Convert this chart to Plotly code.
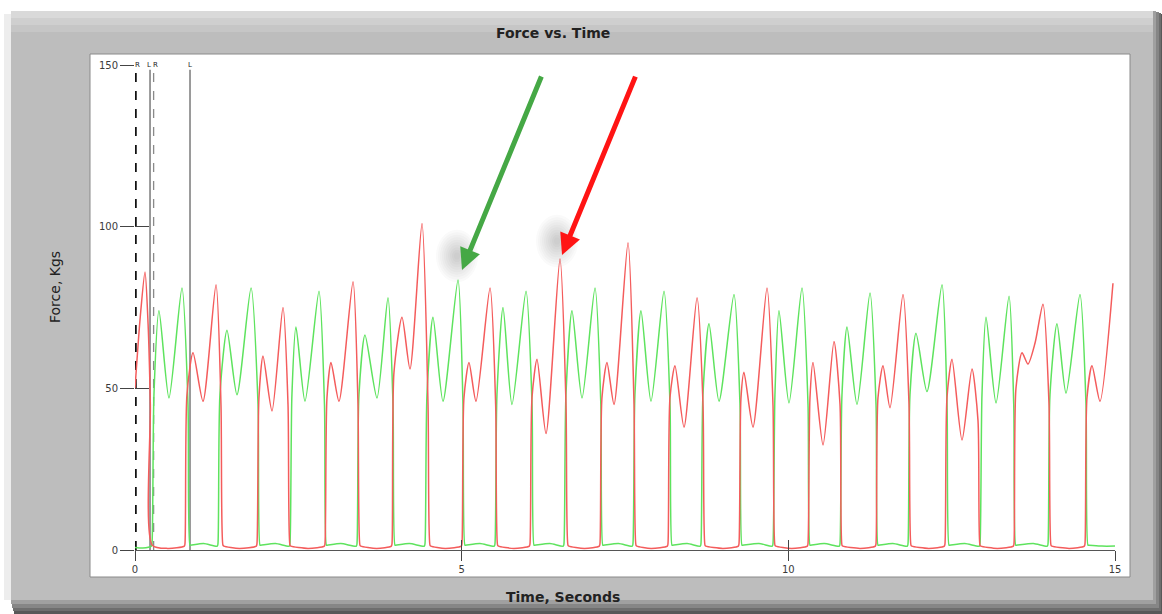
import plotly.graph_objects as go

# ---- measured force traces (time in s, force in kg) ----
red_t = [0.000, 0.080, 0.153, 0.200, 0.235, 0.265, 0.50, 0.755,
         0.765, 0.795, 0.888, 1.041, 1.240, 1.316, 1.346, 1.360, 1.60, 1.857,
         1.867, 1.897, 1.959, 2.097, 2.265, 2.342, 2.372, 2.385, 2.65, 2.898,
         2.908, 2.938, 3.000, 3.122, 3.337, 3.413, 3.443, 3.456, 3.70, 3.924,
         3.934, 3.964, 4.087, 4.209, 4.393, 4.485, 4.515, 4.528, 4.75, 4.995,
         5.005, 5.035, 5.112, 5.219, 5.434, 5.520, 5.550, 5.563, 5.80, 6.036,
         6.046, 6.076, 6.153, 6.291, 6.505, 6.597, 6.627, 6.640, 6.88, 7.107,
         7.117, 7.147, 7.224, 7.332, 7.546, 7.638, 7.668, 7.681, 7.90, 8.148,
         8.158, 8.188, 8.265, 8.403, 8.602, 8.694, 8.724, 8.737, 9.00, 9.235,
         9.245, 9.275, 9.321, 9.459, 9.673, 9.765, 9.795, 9.808, 10.05, 10.291,
         10.301, 10.331, 10.378, 10.531, 10.699, 10.791, 10.821, 10.834, 11.10, 11.332,
         11.342, 11.372, 11.449, 11.556, 11.755, 11.847, 11.877, 11.890, 12.15, 12.388,
         12.398, 12.428, 12.505, 12.658, 12.811, 12.903, 12.933, 12.946, 13.20, 13.444,
         13.454, 13.484, 13.577, 13.668, 13.776, 13.898, 13.990, 14.020, 14.033, 14.30, 14.531,
         14.541, 14.571, 14.648, 14.770, 14.969]
red_f = [50, 72, 86, 70, 45, 1.5, 0.5, 1.2,
         2, 48, 61, 46, 82, 45, 1.5, 1.2, 0.5, 1.2,
         2, 47, 60, 43, 75, 45, 1.5, 1.2, 0.5, 1.2,
         2, 47, 58, 46, 83, 45, 1.5, 1.2, 0.5, 1.2,
         2, 55, 72, 56, 101, 45, 1.5, 1.2, 0.5, 1.2,
         2, 47, 58, 46, 81, 45, 1.5, 1.2, 0.5, 1.2,
         2, 47, 59, 36, 90, 45, 1.5, 1.2, 0.5, 1.2,
         2, 47, 58, 45, 95, 45, 1.5, 1.2, 0.5, 1.2,
         2, 47, 57, 38, 78, 45, 1.5, 1.2, 0.5, 1.2,
         2, 47, 55, 38, 81, 45, 1.5, 1.2, 0.5, 1.2,
         2, 47, 58, 32.5, 64.5, 45, 1.5, 1.2, 0.5, 1.2,
         2, 47, 57, 44, 79, 45, 1.5, 1.2, 0.5, 1.2,
         2, 47, 59, 34, 56, 40, 1.5, 1.2, 0.5, 1.2,
         2, 50, 61, 57.5, 64, 76, 45, 1.5, 1.2, 0.5, 1.2,
         2, 47, 57, 46, 82.5]

green_t = [0.000, 0.120, 0.250,
           0.260, 0.290, 0.367, 0.520, 0.719, 0.811, 0.841, 0.854, 1.05, 1.260,
           1.270, 1.300, 1.408, 1.561, 1.776, 1.883, 1.913, 1.926, 2.15, 2.362,
           2.372, 2.402, 2.464, 2.602, 2.816, 2.900, 2.930, 2.943, 3.15, 3.388,
           3.398, 3.428, 3.520, 3.704, 3.872, 3.949, 3.979, 3.992, 4.20, 4.429,
           4.439, 4.469, 4.561, 4.714, 4.944, 5.020, 5.050, 5.063, 5.28, 5.500,
           5.510, 5.540, 5.633, 5.770, 5.985, 6.077, 6.107, 6.120, 6.35, 6.556,
           6.566, 6.596, 6.689, 6.842, 7.041, 7.130, 7.160, 7.173, 7.40, 7.612,
           7.622, 7.652, 7.745, 7.898, 8.097, 8.189, 8.219, 8.232, 8.45, 8.653,
           8.663, 8.693, 8.786, 8.939, 9.168, 9.260, 9.290, 9.303, 9.55, 9.755,
           9.765, 9.795, 9.857, 10.010, 10.209, 10.301, 10.331, 10.344, 10.55, 10.781,
           10.791, 10.821, 10.898, 11.051, 11.250, 11.342, 11.372, 11.385, 11.60, 11.822,
           11.832, 11.862, 11.954, 12.122, 12.352, 12.429, 12.459, 12.472, 12.70, 12.924,
           12.934, 12.964, 13.026, 13.179, 13.378, 13.450, 13.480, 13.493, 13.75, 13.965,
           13.975, 14.005, 14.112, 14.250, 14.464, 14.556, 14.586, 14.600, 14.80, 15.000]
green_f = [0.8, 0.6, 1.2,
           2, 48, 74, 47, 81, 45, 1.5, 1.5, 2, 1.2,
           2, 48, 68, 48, 81, 45, 1.5, 1.5, 2, 1.2,
           2, 48, 69, 46, 80, 45, 1.5, 1.5, 2, 1.2,
           2, 48, 66.5, 47, 78, 45, 1.5, 1.5, 2, 1.2,
           2, 48, 72, 46, 83.5, 45, 1.5, 1.5, 2, 1.2,
           2, 48, 75, 45, 80, 45, 1.5, 1.5, 2, 1.2,
           2, 48, 74, 47, 81, 45, 1.5, 1.5, 2, 1.2,
           2, 48, 74, 46, 80, 45, 1.5, 1.5, 2, 1.2,
           2, 48, 70, 46, 79, 45, 1.5, 1.5, 2, 1.2,
           2, 48, 74, 45.5, 81, 45, 1.5, 1.5, 2, 1.2,
           2, 48, 69, 45, 79.5, 45, 1.5, 1.5, 2, 1.2,
           2, 48, 67, 49, 82, 45, 1.5, 1.5, 2, 1.2,
           2, 48, 72, 45.5, 78.5, 45, 1.5, 1.5, 2, 1.2,
           2, 48, 70, 48.5, 79, 45, 1.5, 1.5, 1.2, 1.2]

# event markers (foot strike / lift-off cursors)
event_t = [0.01, 0.23, 0.285, 0.842]
event_label = ["R", "L", "R", "L"]
event_label_dx = [2, -1, 2, 0]
event_color = ["#111111", "#7a7a7a", "#8a8a8a", "#7a7a7a"]
event_dash = ["dash", "solid", "dash", "solid"]
event_width = [2.2, 1.5, 1.3, 1.5]

x_ticks = [0, 5, 10, 15]
y_ticks = [0, 50, 100, 150]

# callout arrows: tip location in data units, tail offset in px
green_tip = (5.005, 86.6)
red_tip = (6.536, 91.2)
green_tail = (80, -195)
red_tail = (74, -180)

# plot-area geometry helpers (paper coordinates derived from margins)
W, H = 1162, 614
ML, MR, MT, MB = 135, 47, 65, 64
PW, PH = W - ML - MR, H - MT - MB


def px(x):
    return (x - ML) / PW


def py(y):
    return (H - MB - y) / PH


fig = go.Figure()

for t, c, d, w in zip(event_t, event_color, event_dash, event_width):
    fig.add_trace(go.Scatter(x=[t, t], y=[0, 148.5], mode="lines",
                             line=dict(color=c, dash=d, width=w),
                             hoverinfo="skip", showlegend=False))

fig.add_trace(go.Scatter(x=green_t, y=green_f, mode="lines",
                         line=dict(color="#5ee35e", width=1.5, shape="spline", smoothing=0.7),
                         name="Left", showlegend=False))
fig.add_trace(go.Scatter(x=red_t, y=red_f, mode="lines",
                         line=dict(color="#f45c5c", width=1.5, shape="spline", smoothing=0.7),
                         name="Right", showlegend=False))

# companion axes carrying the inward half of the cross ticks
fig.add_trace(go.Scatter(x=[None], y=[None], xaxis="x2", yaxis="y2",
                         showlegend=False, hoverinfo="skip"))

shapes = []


def rect(x0, y0, x1, y1, fill, line=None):
    d = dict(type="rect", xref="paper", yref="paper", layer="below",
             x0=px(x0), x1=px(x1), y0=py(y1), y1=py(y0), fillcolor=fill)
    d["line"] = line if line else dict(width=0)
    shapes.append(d)


# panel drop shadow and grey frame
rect(4, 14, 11, 600, "#ededed")
rect(14, 14, 1162, 614, "#585858")
rect(13, 13, 1161, 611, "#6e6e6e")
rect(12, 12, 1159, 608, "#868686")
rect(11, 11, 1156, 604, "#a0a0a0")
rect(11, 11, 1153, 600, "#bdbdbd")
rect(11, 11, 1153, 18, "#d9d9d9")
rect(11, 18, 1153, 25, "#cfcfcf")
rect(11, 25, 1153, 32, "#c6c6c6")
# white chart box
rect(90, 54, 1130, 577, "#ffffff", dict(color="#8a8a8a", width=1))

# soft halo behind each arrow head (stacked faint discs)
for tip in (green_tip, red_tip):
    for r in range(3, 23, 2):
        shapes.append(dict(type="circle", xref="x", yref="y", layer="above",
                           xsizemode="pixel", ysizemode="pixel",
                           xanchor=tip[0], yanchor=tip[1],
                           x0=-5 - r, x1=-5 + r, y0=14 - r * 1.25, y1=14 + r * 1.25,
                           fillcolor="rgba(40,40,40,0.022)", line=dict(width=0)))

font = "DejaVu Sans, Arial, sans-serif"
annotations = [
    dict(text="<b>Force vs. Time</b>", x=px(553), y=py(33), xref="paper", yref="paper",
         xanchor="center", yanchor="middle", showarrow=False,
         font=dict(family=font, size=14, color="#222")),
    dict(text="<b>Time, Seconds</b>", x=px(563), y=py(597), xref="paper", yref="paper",
         xanchor="center", yanchor="middle", showarrow=False,
         font=dict(family=font, size=14, color="#222")),
    dict(text="Force, Kgs", x=px(55), y=py(287), xref="paper", yref="paper",
         xanchor="center", yanchor="middle", showarrow=False, textangle=-90,
         font=dict(family=font, size=14, color="#222")),
]
for t, lab, dx in zip(event_t, event_label, event_label_dx):
    annotations.append(dict(text=lab, x=t, y=150, xref="x", yref="y", showarrow=False,
                            xanchor="center", yanchor="middle", xshift=dx,
                            font=dict(family=font, size=7, color="#222")))

for tip, tail, col in [(green_tip, green_tail, "#45a845"), (red_tip, red_tail, "#ff1414")]:
    annotations.append(dict(x=tip[0], y=tip[1], ax=tail[0], ay=tail[1], text="",
                            showarrow=True, arrowhead=2, arrowsize=0.85, arrowwidth=5,
                            arrowcolor=col, standoff=0))

tickfont = dict(family=font, size=10, color="#3a3a3a")
fig.update_layout(
    width=W, height=H, autosize=False,
    margin=dict(l=ML, r=MR, t=MT, b=MB, pad=0),
    paper_bgcolor="#ffffff", plot_bgcolor="rgba(0,0,0,0)",
    shapes=shapes, annotations=annotations, showlegend=False,
    xaxis=dict(range=[0, 15], tickvals=x_ticks, ticks="outside", ticklen=10,
               tickcolor="#444", showgrid=False, zeroline=False, showline=True,
               linecolor="#555", linewidth=1, tickfont=tickfont),
    xaxis2=dict(range=[0, 15], overlaying="x", anchor="y", side="bottom",
                tickvals=x_ticks[1:], ticks="inside", ticklen=10, tickcolor="#444",
                showticklabels=False, showgrid=False, zeroline=False, showline=False),
    yaxis=dict(range=[0, 150], tickvals=y_ticks, ticks="outside", ticklen=14,
               tickcolor="#444", showgrid=False, zeroline=False, showline=False,
               tickfont=tickfont),
    yaxis2=dict(range=[0, 150], overlaying="y", anchor="x", side="left",
                tickvals=y_ticks[1:], ticks="inside", ticklen=14, tickcolor="#444",
                showticklabels=False, showgrid=False, zeroline=False, showline=False),
)

fig.write_html("out.html")
